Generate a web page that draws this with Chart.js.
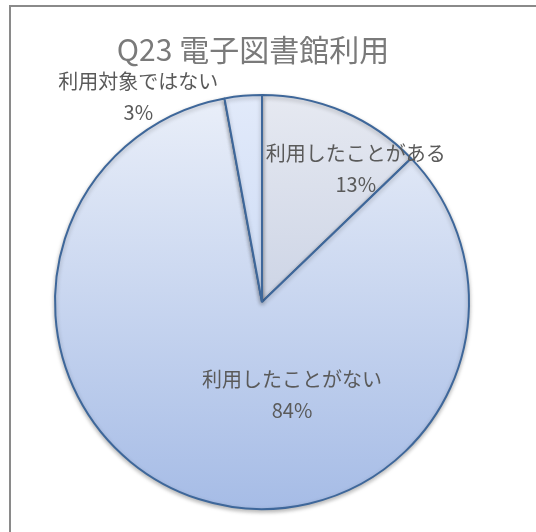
<!DOCTYPE html>
<html>
<head>
<meta charset="utf-8">
<script src="https://cdn.jsdelivr.net/npm/chart.js@4/dist/chart.umd.min.js"></script>
<style>
  body { margin: 0; background: #fff; }
  #wrap { position: relative; width: 536px; height: 532px; }
  #frame {
    position: absolute; left: 9px; top: 5px; right: -4px; bottom: -4px;
    border-left: 2px solid #8a8a8a; border-top: 2px solid #8a8a8a;
  }
  canvas { position: absolute; left: 0; top: 0; }
</style>
</head>
<body>
<div id="wrap">
  <div id="frame"></div>
  <canvas id="myChart" width="536" height="532"></canvas>
</div>
<script>
var chartTitle = "Q23 電子図書館利用";
var categories = ["利用したことがある", "利用したことがない", "利用対象ではない"];
var values = [12.8, 84.3, 2.9];
// gradient stops for each slice (top, bottom)
var sliceColors = [
  ["#e6e9f1", "#b4c0da"],
  ["#eaeff9", "#a6bce6"],
  ["#e2eafa", "#b8cdf0"]
];
// label placement: angle from top (deg, clockwise) and radius factor
var labelPos = [
  [35, 0.79],
  [162, 0.47],
  [329, 1.16]
];

var total = values.reduce((a, b) => a + b, 0);

function sliceFill(context) {
  var chart = context.chart;
  var area = chart.chartArea;
  if (!area) return sliceColors[context.dataIndex][0];
  var c = sliceColors[context.dataIndex];
  var g = chart.ctx.createLinearGradient(0, area.top, 0, area.bottom);
  g.addColorStop(0, c[0]);
  g.addColorStop(1, c[1]);
  return g;
}

var labelsPlugin = {
  id: "labelsPlugin",
  beforeDatasetsDraw: function (chart) {
    var ctx = chart.ctx;
    ctx.save();
    ctx.shadowColor = "rgba(0,0,0,0.28)";
    ctx.shadowBlur = 4;
    ctx.shadowOffsetY = 2;
  },
  afterDatasetsDraw: function (chart) {
    var ctx = chart.ctx;
    ctx.restore();
    var meta = chart.getDatasetMeta(0);
    ctx.save();
    ctx.fillStyle = "#5a5a5a";
    ctx.textAlign = "center";
    ctx.textBaseline = "middle";
    ctx.font = "20px 'Noto Sans CJK JP'";
    meta.data.forEach(function (arc, i) {
      var a = (labelPos[i][0] - 90) * Math.PI / 180;
      var r = arc.outerRadius * labelPos[i][1];
      var x = arc.x + Math.cos(a) * r;
      var y = arc.y + Math.sin(a) * r;
      ctx.fillText(categories[i], x, y - 15);
      ctx.fillText(Math.round(values[i] / total * 100) + "%", x, y + 16);
    });
    // title
    ctx.fillStyle = "#7a7a7a";
    ctx.font = "30px 'Noto Sans CJK JP'";
    ctx.fillText(chartTitle, 253, 50);
    ctx.restore();
  }
};

new Chart(document.getElementById("myChart"), {
  type: "pie",
  data: {
    labels: categories,
    datasets: [
      {
        data: values,
        backgroundColor: sliceFill,
        borderColor: "#3e679a",
        borderWidth: 2,
      },
    ],
  },
  plugins: [labelsPlugin],
  options: {
    responsive: false,
    animation: false,
    radius: 207,
    layout: {
      padding: { left: 55, right: 67, top: 95, bottom: 23 },
    },
    plugins: {
      legend: { display: false },
      tooltip: { enabled: false },
      title: { display: false },
    },
  },
});
</script>
</body>
</html>
